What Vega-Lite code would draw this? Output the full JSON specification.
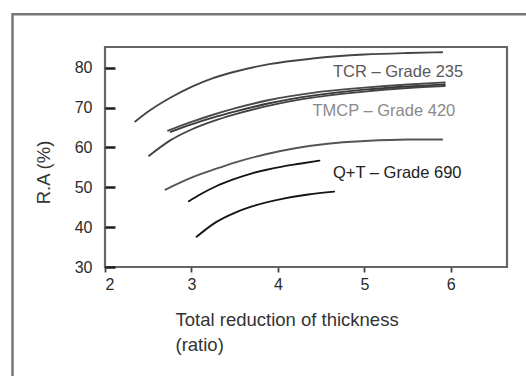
{
  "$schema": "https://vega.github.io/schema/vega-lite/v6.json",
  "width": 402,
  "height": 220,
  "autosize": {"type": "none"},
  "padding": {"left": 105, "top": 47, "right": 19, "bottom": 109},
  "background": "white",
  "config": {
    "view": {"stroke": "#666666", "strokeWidth": 2.2},
    "font": "Liberation Sans"
  },
  "datasets": {
    "frame": [{"id": 1}],
    "curves": [
      {"series": "TCR", "x": 2.35, "y": 66.5}, {"series": "TCR", "x": 2.5, "y": 69.0}, {"series": "TCR", "x": 2.75, "y": 72.4}, {"series": "TCR", "x": 3.0, "y": 75.2}, {"series": "TCR", "x": 3.25, "y": 77.4}, {"series": "TCR", "x": 3.5, "y": 79.0}, {"series": "TCR", "x": 3.9, "y": 80.9}, {"series": "TCR", "x": 4.4, "y": 82.3}, {"series": "TCR", "x": 5.0, "y": 83.3}, {"series": "TCR", "x": 5.5, "y": 83.7}, {"series": "TCR", "x": 5.9, "y": 83.9},
      {"series": "TMCP-a", "x": 2.73, "y": 64.2}, {"series": "TMCP-a", "x": 3.0, "y": 66.4}, {"series": "TMCP-a", "x": 3.25, "y": 68.2}, {"series": "TMCP-a", "x": 3.5, "y": 69.8}, {"series": "TMCP-a", "x": 3.9, "y": 71.9}, {"series": "TMCP-a", "x": 4.4, "y": 73.7}, {"series": "TMCP-a", "x": 5.0, "y": 75.0}, {"series": "TMCP-a", "x": 5.5, "y": 75.8}, {"series": "TMCP-a", "x": 5.93, "y": 76.3},
      {"series": "TMCP-b", "x": 2.76, "y": 63.9}, {"series": "TMCP-b", "x": 3.0, "y": 65.8}, {"series": "TMCP-b", "x": 3.25, "y": 67.5}, {"series": "TMCP-b", "x": 3.5, "y": 69.0}, {"series": "TMCP-b", "x": 3.9, "y": 71.1}, {"series": "TMCP-b", "x": 4.4, "y": 73.0}, {"series": "TMCP-b", "x": 5.0, "y": 74.5}, {"series": "TMCP-b", "x": 5.5, "y": 75.3}, {"series": "TMCP-b", "x": 5.93, "y": 75.8},
      {"series": "TMCP-c", "x": 2.51, "y": 57.9}, {"series": "TMCP-c", "x": 2.75, "y": 61.7}, {"series": "TMCP-c", "x": 3.0, "y": 64.5}, {"series": "TMCP-c", "x": 3.25, "y": 66.6}, {"series": "TMCP-c", "x": 3.5, "y": 68.3}, {"series": "TMCP-c", "x": 3.9, "y": 70.5}, {"series": "TMCP-c", "x": 4.4, "y": 72.5}, {"series": "TMCP-c", "x": 5.0, "y": 74.0}, {"series": "TMCP-c", "x": 5.5, "y": 74.9}, {"series": "TMCP-c", "x": 5.93, "y": 75.4},
      {"series": "QT-a", "x": 2.7, "y": 49.4}, {"series": "QT-a", "x": 3.0, "y": 52.4}, {"series": "QT-a", "x": 3.28, "y": 54.6}, {"series": "QT-a", "x": 3.5, "y": 56.2}, {"series": "QT-a", "x": 3.86, "y": 58.3}, {"series": "QT-a", "x": 4.2, "y": 59.8}, {"series": "QT-a", "x": 4.6, "y": 61.0}, {"series": "QT-a", "x": 5.0, "y": 61.6}, {"series": "QT-a", "x": 5.5, "y": 62.0}, {"series": "QT-a", "x": 5.9, "y": 62.0},
      {"series": "QT-b", "x": 2.97, "y": 46.5}, {"series": "QT-b", "x": 3.1, "y": 48.2}, {"series": "QT-b", "x": 3.28, "y": 50.2}, {"series": "QT-b", "x": 3.5, "y": 52.1}, {"series": "QT-b", "x": 3.7, "y": 53.5}, {"series": "QT-b", "x": 4.05, "y": 55.2}, {"series": "QT-b", "x": 4.25, "y": 55.9}, {"series": "QT-b", "x": 4.48, "y": 56.7},
      {"series": "QT-c", "x": 3.06, "y": 37.6}, {"series": "QT-c", "x": 3.28, "y": 41.2}, {"series": "QT-c", "x": 3.5, "y": 43.6}, {"series": "QT-c", "x": 3.7, "y": 45.2}, {"series": "QT-c", "x": 4.05, "y": 47.1}, {"series": "QT-c", "x": 4.35, "y": 48.2}, {"series": "QT-c", "x": 4.65, "y": 48.9}
    ],
    "labels": [
      {"group": "TCR", "label": "TCR – Grade 235", "x": 4.637, "y": 78.9},
      {"group": "TMCP", "label": "TMCP – Grade 420", "x": 4.4, "y": 69.06},
      {"group": "QT", "label": "Q+T – Grade 690", "x": 4.637, "y": 53.6}
    ]
  },
  "layer": [
    {
      "data": {"name": "frame"},
      "mark": {"type": "rect", "fill": "transparent", "stroke": "#777777", "strokeWidth": 2.5, "clip": false},
      "encoding": {
        "x": {"datum": 0.93, "type": "quantitative"},
        "x2": {"datum": 8},
        "y": {"datum": 93.4, "type": "quantitative"},
        "y2": {"datum": 0}
      }
    },
    {
      "data": {"name": "curves"},
      "mark": {"type": "line", "interpolate": "monotone", "strokeWidth": 1.9, "strokeCap": "round"},
      "encoding": {
        "x": {
          "field": "x", "type": "quantitative",
          "scale": {"domain": [2, 6.65], "nice": false, "zero": false},
          "axis": {
            "values": [2, 3, 4, 5, 6], "format": "d", "domain": false, "grid": false, "zindex": 1,
            "ticks": true, "tickSize": 5, "tickColor": "#444444", "tickWidth": 1.8, "tickOpacity": 1,
            "labelFontSize": 16, "labelColor": "#2a2a2a", "labelPadding": 4,
            "title": ["Total reduction of thickness", "(ratio)"],
            "titleFontSize": 18.5, "titleFontWeight": "normal", "titleColor": "#333",
            "titleAlign": "left", "titleAnchor": "start", "titleX": 70, "titleY": 43,
            "titleBaseline": "top", "titleLineHeight": 25
          }
        },
        "y": {
          "field": "y", "type": "quantitative",
          "scale": {"domain": [30, 85.2], "nice": false, "zero": false},
          "axis": {
            "values": [30, 40, 50, 60, 70, 80], "domain": false, "grid": false, "zindex": 1,
            "offset": -10, "ticks": true,
            "tickSize": 10, "tickColor": "#1e1e1e", "tickWidth": 2.5, "tickOpacity": 1,
            "labelFontSize": 16, "labelColor": "#2a2a2a", "labelPadding": 13,
            "title": "R.A (%)", "titleFontSize": 18.5, "titleFontWeight": "normal", "titleColor": "#333",
            "titleAngle": -90, "titleAlign": "center", "titleBaseline": "middle",
            "titleX": -72, "titleY": 125
          }
        },
        "color": {
          "field": "series", "type": "nominal", "legend": null,
          "scale": {
            "domain": ["TCR", "TMCP-a", "TMCP-b", "TMCP-c", "QT-a", "QT-b", "QT-c"],
            "range": ["#454545", "#4a4a4a", "#3a3a3a", "#444444", "#555555", "#151515", "#151515"]
          }
        }
      }
    },
    {
      "data": {"name": "labels"},
      "mark": {"type": "text", "align": "left", "baseline": "middle", "fontSize": 16.5, "font": "Liberation Sans"},
      "encoding": {
        "x": {"field": "x", "type": "quantitative"},
        "y": {"field": "y", "type": "quantitative"},
        "text": {"field": "label"},
        "color": {
          "field": "group", "type": "nominal", "legend": null,
          "scale": {"domain": ["TCR", "TMCP", "QT"], "range": ["#5a5a5a", "#8a8a8a", "#222222"]}
        }
      }
    }
  ],
  "resolve": {"scale": {"color": "independent"}}
}
